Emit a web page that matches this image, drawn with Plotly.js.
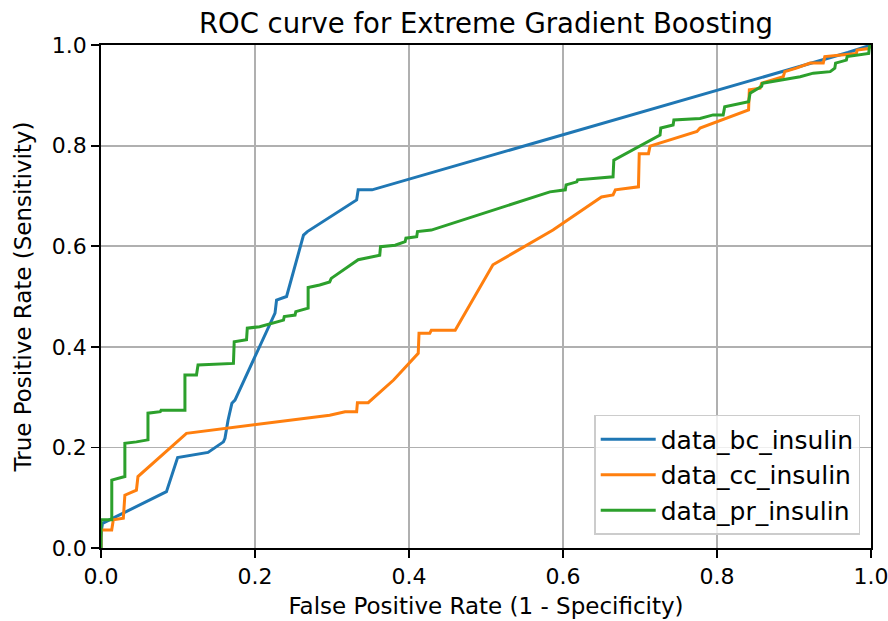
<!DOCTYPE html>
<html>
<head>
<meta charset="utf-8">
<script src="https://cdn.plot.ly/plotly-3.0.1.min.js"></script>
<style>html,body{margin:0;padding:0;background:#fff;}#chart{width:888px;height:621px;}</style>
</head>
<body>
<div id="chart"></div>
<script>
// Series names
const seriesNames = ["data_bc_insulin", "data_cc_insulin", "data_pr_insulin"];

// data_bc_insulin ROC points
const bcFpr = [0, 0, 0.001, 0.002, 0.085, 0.0995, 0.139, 0.159, 0.161, 0.165, 0.17, 0.174, 0.226, 0.228, 0.241, 0.263, 0.268, 0.332, 0.334, 0.352, 0.97, 1.0];
const bcTpr = [0, 0.02, 0.04, 0.049, 0.112, 0.18, 0.19, 0.211, 0.218, 0.254, 0.288, 0.294, 0.467, 0.493, 0.5, 0.622, 0.629, 0.692, 0.712, 0.712, 0.985, 1.0];

// data_cc_insulin ROC points
const ccFpr = [0, 0, 0.0139, 0.016, 0.029, 0.031, 0.046, 0.048, 0.111, 0.233, 0.297, 0.317, 0.332, 0.333, 0.347, 0.38, 0.412, 0.413, 0.427, 0.429, 0.46, 0.509, 0.587, 0.65, 0.665, 0.668, 0.698, 0.699, 0.711, 0.713, 0.774, 0.778, 0.841, 0.842, 0.856, 0.858, 0.886, 0.888, 0.903, 0.921, 0.938, 0.94, 0.981, 0.982, 0.997, 1.0];
const ccTpr = [0, 0.036, 0.036, 0.056, 0.059, 0.105, 0.115, 0.142, 0.228, 0.251, 0.264, 0.271, 0.271, 0.289, 0.289, 0.334, 0.387, 0.427, 0.427, 0.433, 0.433, 0.563, 0.632, 0.698, 0.702, 0.712, 0.718, 0.784, 0.784, 0.799, 0.828, 0.835, 0.871, 0.911, 0.914, 0.924, 0.937, 0.947, 0.954, 0.964, 0.964, 0.977, 0.983, 0.99, 0.993, 1.0];

// data_pr_insulin ROC points
const prFpr = [0, 0, 0.014, 0.014, 0.031, 0.031, 0.046, 0.061, 0.061, 0.077, 0.078, 0.109, 0.109, 0.124, 0.126, 0.172, 0.173, 0.189, 0.19, 0.206, 0.237, 0.238, 0.252, 0.253, 0.269, 0.269, 0.284, 0.297, 0.299, 0.334, 0.362, 0.363, 0.382, 0.395, 0.396, 0.41, 0.411, 0.429, 0.583, 0.603, 0.604, 0.618, 0.619, 0.648, 0.665, 0.666, 0.726, 0.727, 0.743, 0.744, 0.778, 0.795, 0.808, 0.81, 0.841, 0.843, 0.858, 0.859, 0.908, 0.925, 0.947, 0.953, 0.954, 0.968, 0.969, 0.997, 0.998, 1.0];
const prTpr = [0, 0.056, 0.056, 0.135, 0.142, 0.208, 0.211, 0.215, 0.268, 0.271, 0.274, 0.274, 0.344, 0.344, 0.364, 0.367, 0.41, 0.414, 0.437, 0.44, 0.453, 0.46, 0.463, 0.47, 0.477, 0.518, 0.523, 0.529, 0.536, 0.573, 0.582, 0.599, 0.602, 0.609, 0.616, 0.619, 0.629, 0.632, 0.708, 0.712, 0.722, 0.728, 0.732, 0.735, 0.738, 0.771, 0.821, 0.835, 0.841, 0.851, 0.854, 0.861, 0.861, 0.877, 0.887, 0.904, 0.918, 0.924, 0.937, 0.944, 0.947, 0.954, 0.964, 0.970, 0.977, 0.983, 0.997, 1.0];

// Axis ticks
const tickVals = [0, 0.2, 0.4, 0.6, 0.8, 1.0];
const tickText = ["0.0", "0.2", "0.4", "0.6", "0.8", "1.0"];

const colors = ["#1f77b4", "#ff7f0e", "#2ca02c"];
const xs = [bcFpr, ccFpr, prFpr];
const ys = [bcTpr, ccTpr, prTpr];

const FONT = "DejaVu Sans, Liberation Sans, sans-serif";

const traces = seriesNames.map((n, i) => ({
  type: "scatter",
  mode: "lines",
  name: n,
  x: xs[i],
  y: ys[i],
  line: {color: colors[i], width: 3, shape: "linear"},
  hoverinfo: "x+y+name"
}));

const axisCommon = {
  range: [0, 1],
  tickvals: tickVals,
  ticktext: tickText,
  ticks: "outside",
  ticklen: 8,
  tickwidth: 1.8,
  tickcolor: "#000",
  showline: true,
  linecolor: "#000",
  linewidth: 1.8,
  mirror: true,
  showgrid: true,
  gridcolor: "#b0b0b0",
  gridwidth: 1.8,
  zeroline: false,
  ticklabeloverflow: "allow",
  tickfont: {family: FONT, size: 22, color: "#000"},
  fixedrange: true
};

const layout = {
  width: 888,
  height: 621,
  margin: {l: 101, r: 17, t: 45, b: 73, pad: 0},
  paper_bgcolor: "#fff",
  plot_bgcolor: "#fff",
  font: {family: FONT, color: "#000"},
  title: {
    text: "ROC curve for Extreme Gradient Boosting",
    font: {family: FONT, size: 27.5, color: "#000"},
    x: 0.5, xref: "paper", xanchor: "center",
    y: 0.962, yref: "container", yanchor: "middle"
  },
  xaxis: Object.assign({}, axisCommon, {
    title: {text: "False Positive Rate (1 - Specificity)", font: {family: FONT, size: 23, color: "#000"}, standoff: 10}
  }),
  yaxis: Object.assign({}, axisCommon, {
    title: {text: "True Positive Rate (Sensitivity)", font: {family: FONT, size: 23, color: "#000"}, standoff: 14}
  }),
  showlegend: true,
  legend: {
    x: 0.986, xanchor: "right",
    y: 0.026, yanchor: "bottom",
    bgcolor: "rgba(255,255,255,0.8)",
    bordercolor: "#cccccc",
    borderwidth: 1.5,
    font: {family: FONT, size: 25, color: "#000"},
    itemwidth: 55,
    tracegroupgap: 0
  }
};

Plotly.newPlot("chart", traces, layout, {displayModeBar: false, staticPlot: true});
</script>
</body>
</html>
